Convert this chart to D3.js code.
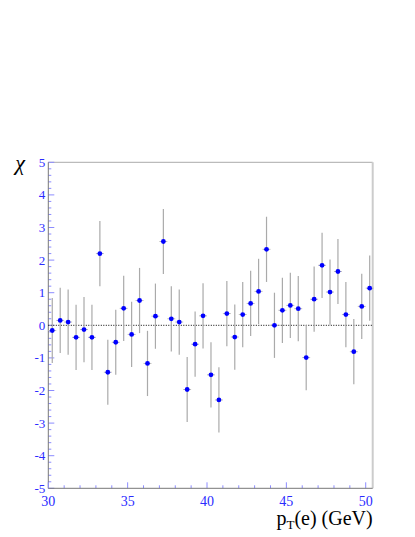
<!DOCTYPE html>
<html><head><meta charset="utf-8">
<script src="https://cdn.jsdelivr.net/npm/d3@7"></script>
<style>body{margin:0;background:#fff}</style></head>
<body><div id="chart"></div>
<script>
const binCenters = d3.range(41).map(i => 30.25 + 0.5 * i);
const chiValues = [-0.16, 0.15, 0.10, -0.37, -0.13, -0.37, 2.20, -1.44, -0.52, 0.52,
  -0.28, 0.76, -1.17, 0.28, 2.57, 0.20, 0.10, -1.97, -0.58, 0.29,
  -1.52, -2.29, 0.36, -0.36, 0.33, 0.67, 1.04, 2.33, 0.00, 0.46,
  0.61, 0.51, -0.99, 0.80, 1.84, 1.02, 1.65, 0.33, -0.81, 0.58, 1.14];
const chiErrors = chiValues.map(() => 1.0);
const xTickLabels = [30, 35, 40, 45, 50];
const yTickLabels = [-5, -4, -3, -2, -1, 0, 1, 2, 3, 4, 5];

const W = 415, H = 537;
const L = 48.3, R = 372.7, T = 162.3, B = 488.3;
const FONT = '"Liberation Serif", "Times New Roman", serif';
const svg = d3.select("#chart").append("svg").attr("width", W).attr("height", H);
const x = d3.scaleLinear().domain([30, 50.44]).range([L, R]);
const y = d3.scaleLinear().domain([-5, 5]).range([B, T]);
const tickCol = "#8c8cff", labCol = "#2b2bff";

// frame top & right
svg.append("line").attr("x1", L).attr("x2", R).attr("y1", T).attr("y2", T).attr("stroke", "#aaa");
svg.append("line").attr("x1", R).attr("x2", R).attr("y1", T).attr("y2", B).attr("stroke", "#ccc").attr("stroke-width", 2);

// y axis
const yAxis = svg.append("g");
d3.range(-5, 5.001, 0.2).forEach(v => {
  const major = Math.abs(v - Math.round(v)) < 1e-6;
  yAxis.append("line").attr("x1", L).attr("x2", L + (major ? 6 : 3))
    .attr("y1", y(v)).attr("y2", y(v)).attr("stroke", tickCol);
});
yAxis.selectAll("text").data(yTickLabels).join("text")
  .attr("x", L - 3).attr("y", d => y(d) + 4.5).attr("text-anchor", "end")
  .style("font-family", FONT).attr("font-size", 13).attr("fill", labCol).text(d => d);
yAxis.append("line").attr("x1", L).attr("x2", L).attr("y1", T).attr("y2", B).attr("stroke", "#777");

// x axis
const xAxis = svg.append("g");
d3.range(30, 50.5, 1).forEach(v => {
  const major = v % 5 === 0;
  xAxis.append("line").attr("x1", x(v)).attr("x2", x(v)).attr("y1", B).attr("y2", B - (major ? 6 : 3)).attr("stroke", tickCol);
});
xAxis.selectAll("text").data(xTickLabels).join("text")
  .attr("x", d => x(d)).attr("y", 505.5).attr("text-anchor", "middle")
  .style("font-family", FONT).attr("font-size", 14).attr("fill", labCol).text(d => d);
xAxis.append("line").attr("x1", L).attr("x2", R).attr("y1", B).attr("y2", B).attr("stroke", "#777");

// zero line
svg.append("line").attr("x1", L).attr("x2", R).attr("y1", y(0)).attr("y2", y(0))
  .attr("stroke", "#000").attr("stroke-dasharray", "1,1.5");

// data
const data = binCenters.map((c, i) => ({x: c, v: chiValues[i], e: chiErrors[i]}));
const g = svg.append("g");
g.selectAll("line.ey").data(data).join("line").attr("class", "ey")
  .attr("x1", d => x(d.x)).attr("x2", d => x(d.x))
  .attr("y1", d => y(d.v - d.e)).attr("y2", d => y(d.v + d.e))
  .attr("stroke", "#aaa").attr("stroke-width", 1.2);
g.selectAll("line.ex").data(data).join("line").attr("class", "ex")
  .attr("x1", d => x(d.x - 0.25)).attr("x2", d => x(d.x + 0.25))
  .attr("y1", d => y(d.v)).attr("y2", d => y(d.v))
  .attr("stroke", "#bbb").attr("stroke-width", 1);
g.selectAll("circle").data(data).join("circle")
  .attr("cx", d => x(d.x)).attr("cy", d => y(d.v)).attr("r", 2.4).attr("fill", "#0000ff");

// titles
svg.append("text").attr("x", 20).attr("y", 170).attr("text-anchor", "middle")
  .style("font-family", FONT).style("font-style", "italic")
  .attr("font-size", 22).attr("fill", "#000").text("χ");
const xt = svg.append("text").attr("x", R).attr("y", 525).attr("text-anchor", "end")
  .style("font-family", FONT).attr("font-size", 20).attr("fill", "#000");
xt.append("tspan").text("p");
xt.append("tspan").attr("font-size", 13).attr("dy", 4).text("T");
xt.append("tspan").attr("dy", -4).text("(e) (GeV)");
</script></body></html>
